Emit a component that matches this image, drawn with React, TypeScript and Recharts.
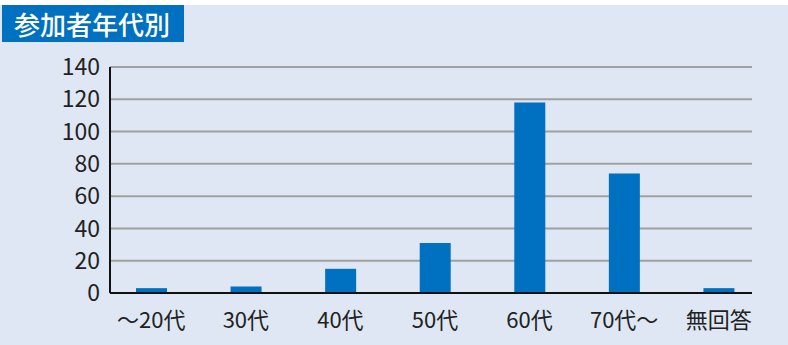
import { BarChart, Bar, XAxis, YAxis, CartesianGrid } from 'recharts';

const categories = ['〜20代', '30代', '40代', '50代', '60代', '70代〜', '無回答'];
const counts = [3, 4, 15, 31, 118, 74, 3];
const yTicks = [0, 20, 40, 60, 80, 100, 120, 140];

const data = categories.map((name, i) => ({ name, value: counts[i] }));

const FONT = '"Noto Sans CJK JP", "Noto Sans", sans-serif';

const App = () => {
  return (
    <div style={{ position: 'absolute', left: 0, top: 0, width: 788, height: 345, background: '#ffffff', fontFamily: FONT }}>
      <div style={{ position: 'absolute', left: 0, top: 5, width: 788, height: 340, background: '#dee7f3' }} />
      <div
        style={{
          position: 'absolute',
          left: 2,
          top: 5,
          width: 170,
          height: 37,
          paddingLeft: 12,
          background: '#0070c0',
          color: '#ffffff',
          fontSize: 26,
          lineHeight: '37px',
          fontWeight: 500,
          whiteSpace: 'nowrap',
        }}
      >
        参加者年代別
      </div>
      <div style={{ position: 'absolute', left: 0, top: 0 }}>
        <BarChart width={788} height={345} data={data} margin={{ top: 67, right: 36, bottom: 0, left: 0 }}>
          <CartesianGrid vertical={false} stroke="#a0a0a0" strokeWidth={2} />
          <XAxis
            dataKey="name"
            height={52}
            padding={{ left: -6, right: -14 }}
            tickLine={false}
            tickSize={0}
            tickMargin={19}
            axisLine={{ stroke: '#111111', strokeWidth: 2 }}
            tick={{ fill: '#222222', fontSize: 22, fontFamily: FONT }}
            interval={0}
          />
          <YAxis
            width={110}
            domain={[0, 140]}
            ticks={yTicks}
            tickLine={false}
            tickSize={0}
            tickMargin={10}
            axisLine={{ stroke: '#111111', strokeWidth: 2 }}
            tick={{ fill: '#222222', fontSize: 23, fontFamily: FONT }}
            interval={0}
          />
          <Bar dataKey="value" fill="#0070c0" barSize={31} isAnimationActive={false} />
        </BarChart>
      </div>
    </div>
  );
};

export default App;
